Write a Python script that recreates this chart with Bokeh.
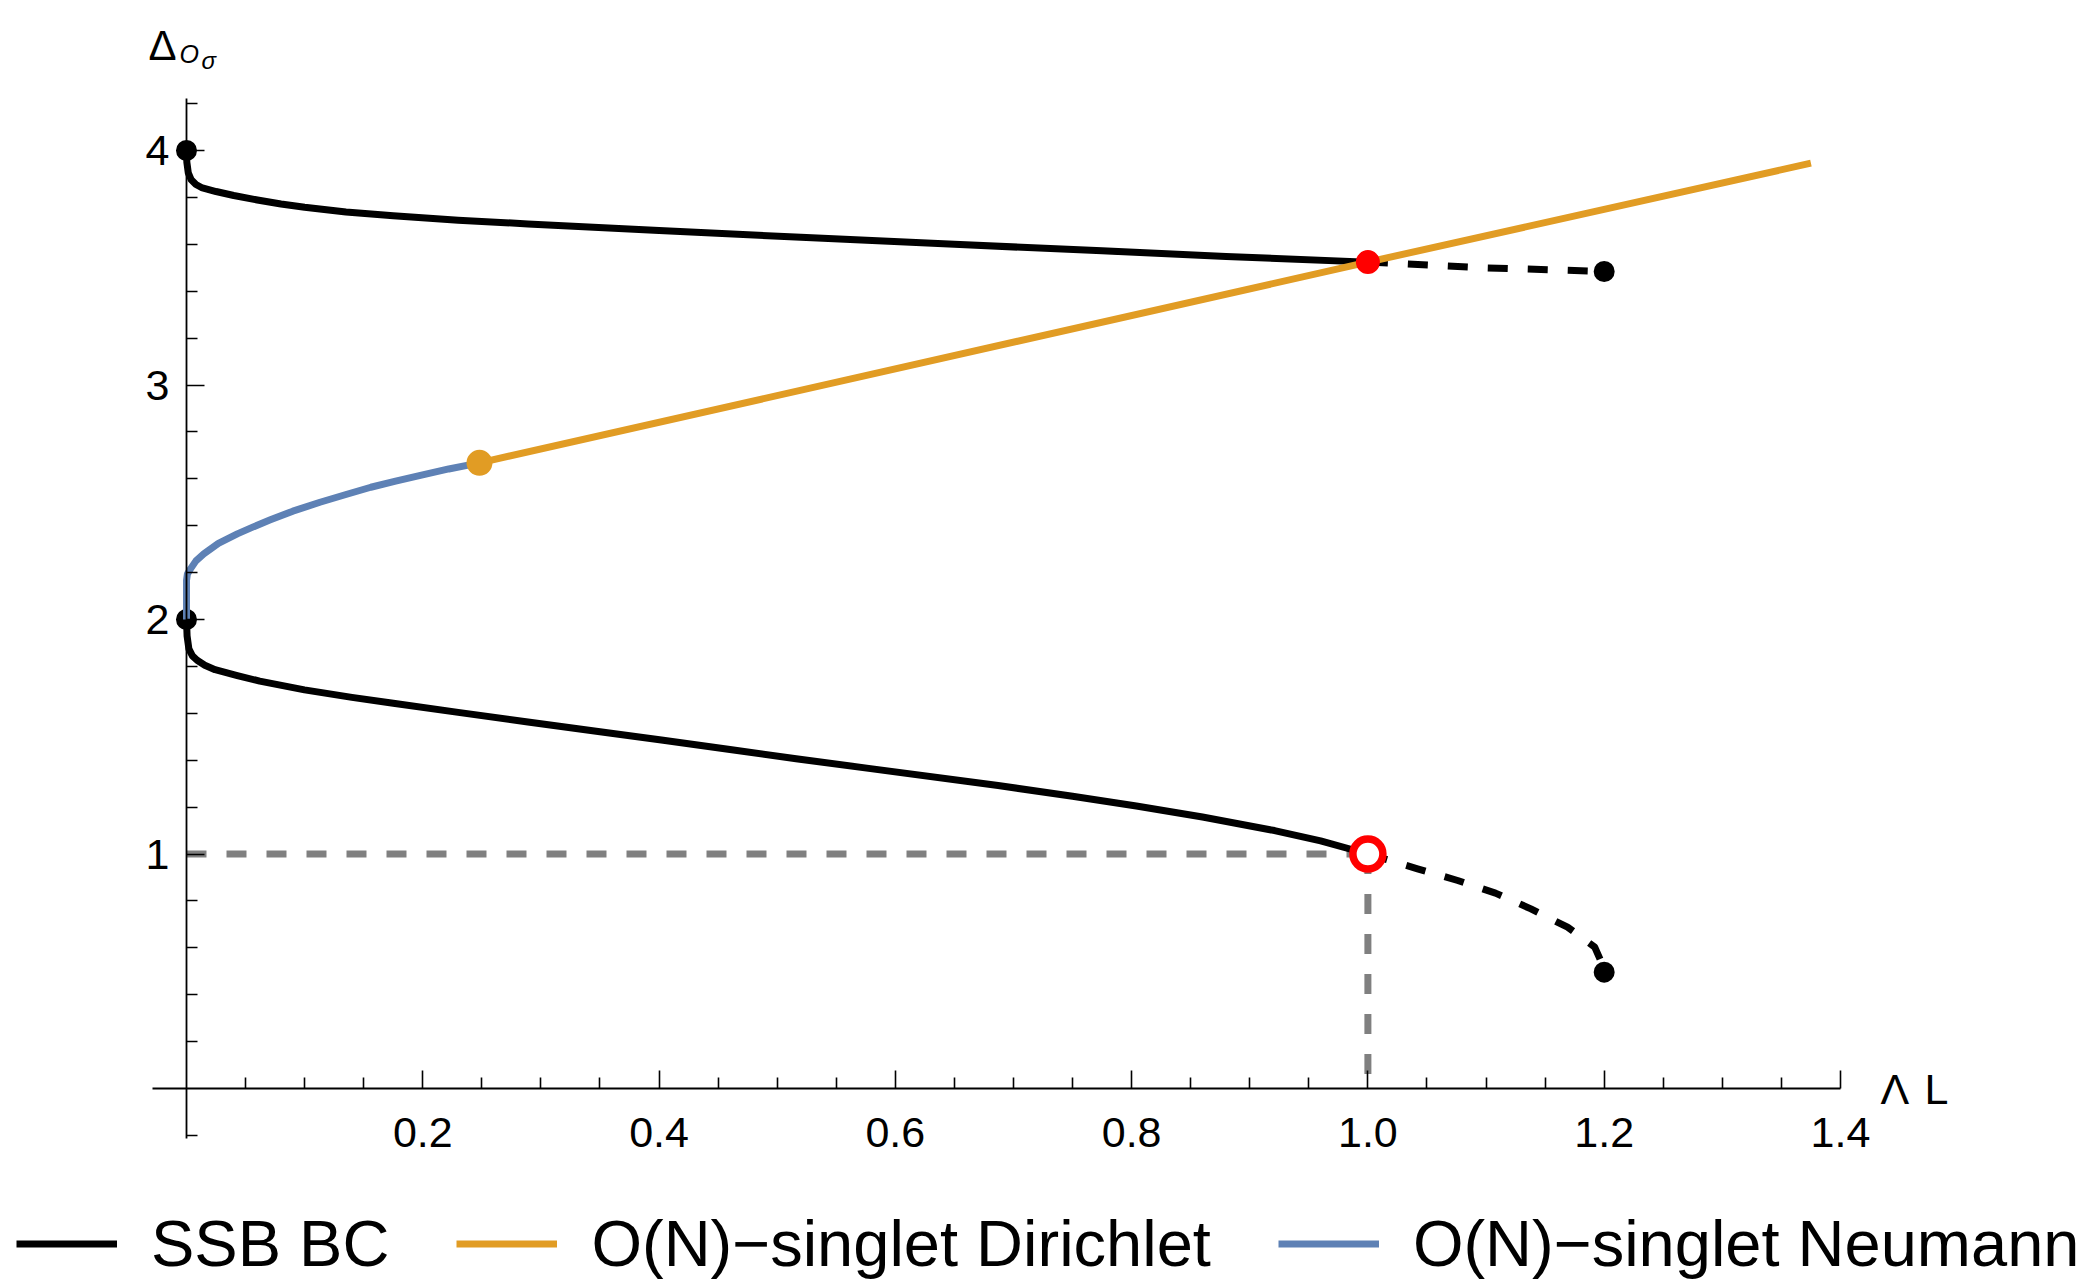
from bokeh.plotting import figure
from bokeh.models import LinearAxis, FixedTicker, Label, Legend, LegendItem
from bokeh.embed import file_html
from bokeh.resources import INLINE

# ---------------- data ----------------
# SSB BC, upper branch (solid part) : Lambda L  vs  Delta
ssb_up_x = [0.0, 0.0003, 0.0015, 0.004, 0.008, 0.0127, 0.025, 0.04, 0.06, 0.08, 0.1, 0.135, 0.175,
            0.23, 0.289, 0.4, 0.52, 0.65, 0.775, 0.88, 1.0]
ssb_up_y = [4.0, 3.95, 3.905, 3.875, 3.855, 3.842, 3.825, 3.808, 3.789, 3.772, 3.758, 3.738, 3.722,
            3.703, 3.687, 3.659, 3.630, 3.600, 3.572, 3.548, 3.524]
# SSB BC, upper branch (dashed continuation)
ssb_up_dash_x = [1.0, 1.098, 1.2]
ssb_up_dash_y = [3.524, 3.50, 3.484]
# SSB BC, lower branch (solid part)
ssb_lo_x = [0.0, 0.0005, 0.002, 0.005, 0.009, 0.0155, 0.0242, 0.043, 0.062, 0.0999, 0.14, 0.175, 0.23,
            0.289, 0.35, 0.402, 0.46, 0.516, 0.579, 0.687, 0.75, 0.804, 0.86, 0.921, 0.96, 1.0]
ssb_lo_y = [2.0, 1.93, 1.875, 1.845, 1.826, 1.805, 1.786, 1.761, 1.737, 1.700, 1.668, 1.643, 1.604,
            1.563, 1.521, 1.486, 1.446, 1.406, 1.364, 1.292, 1.246, 1.205, 1.158, 1.100, 1.056, 1.0]
# SSB BC, lower branch (dashed continuation)
ssb_lo_dash_x = [1.0, 1.042, 1.076, 1.108, 1.138, 1.169, 1.192, 1.197, 1.2]
ssb_lo_dash_y = [1.0, 0.937, 0.887, 0.833, 0.766, 0.688, 0.603, 0.546, 0.496]
# O(N)-singlet Neumann
neu_x = [0.0, 0.0, 0.0008, 0.0034, 0.008, 0.0146, 0.027, 0.043, 0.057, 0.071, 0.09, 0.113,
         0.135, 0.156, 0.177, 0.198, 0.222, 0.248]
neu_y = [2.0, 2.166, 2.195, 2.216, 2.25, 2.28, 2.325, 2.365, 2.396, 2.425, 2.462, 2.50,
         2.533, 2.564, 2.590, 2.615, 2.642, 2.668]
# O(N)-singlet Dirichlet
dir_x = [0.248, 1.0, 1.375]
dir_y = [2.668, 3.524, 3.946]
# end points
ssb_end_x = [0.0, 0.0, 1.2, 1.2]
ssb_end_y = [4.0, 2.0, 3.484, 0.496]
dir_start_x = [0.248]
dir_start_y = [2.668]
cross_x = [1.0]
cross_y = [3.524]
open_x = [1.0]
open_y = [1.0]
# guide lines
guide_h_x = [0.0, 1.0]
guide_h_y = [1.0, 1.0]
guide_v_x = [1.0, 1.0]
guide_v_y = [1.0, 0.0]

# ticks
x_major = [0.2, 0.4, 0.6, 0.8, 1.0, 1.2, 1.4]
x_labels = ["0.2", "0.4", "0.6", "0.8", "1.0", "1.2", "1.4"]
x_minor = [0.05, 0.1, 0.15, 0.25, 0.3, 0.35, 0.45, 0.5, 0.55, 0.65, 0.7, 0.75,
           0.85, 0.9, 0.95, 1.05, 1.1, 1.15, 1.25, 1.3, 1.35]
y_major = [1, 2, 3, 4]
y_labels = ["1", "2", "3", "4"]
y_minor = [-0.2, 0.2, 0.4, 0.6, 0.8, 1.2, 1.4, 1.6, 1.8, 2.2, 2.4, 2.6, 2.8,
           3.2, 3.4, 3.6, 3.8, 4.2]

legend_labels = ["SSB BC", "O(N)\u2212singlet Dirichlet", "O(N)\u2212singlet Neumann"]

# ---------------- styling ----------------
FONT = "Liberation Sans"
BLACK = "#000000"
ORANGE = "#E19C24"
BLUE = "#5E81B5"
RED = "#FF0000"
GRAY = "#808080"
LW = 7

p = figure(width=2080, height=1280,
           x_range=(-0.15744, 1.60318), y_range=(-0.81876, 4.63966),
           output_backend="svg", toolbar_location=None, tools="",
           x_axis_location=None, y_axis_location=None,
           min_border=0, title=None)
p.outline_line_color = None
p.background_fill_color = "white"
p.border_fill_color = "white"
p.xgrid.visible = False
p.ygrid.visible = False

# axes through the origin
xaxis = LinearAxis(fixed_location=0, bounds=(-0.029, 1.4),
                   ticker=FixedTicker(ticks=x_major, minor_ticks=x_minor),
                   major_label_overrides=dict(zip(x_major, x_labels)))
yaxis = LinearAxis(fixed_location=0, bounds=(-0.213, 4.22),
                   ticker=FixedTicker(ticks=y_major, minor_ticks=y_minor),
                   major_label_overrides=dict(zip(y_major, y_labels)))
for ax in (xaxis, yaxis):
    ax.axis_line_color = BLACK
    ax.axis_line_width = 1.8
    ax.major_tick_line_color = BLACK
    ax.major_tick_line_width = 1.6
    ax.minor_tick_line_color = BLACK
    ax.minor_tick_line_width = 1.6
    ax.major_tick_in = 18
    ax.major_tick_out = 0
    ax.minor_tick_in = 11
    ax.minor_tick_out = 0
    ax.major_label_text_font = FONT
    ax.major_label_text_font_size = "43px"
    ax.major_label_text_color = BLACK
xaxis.major_label_standoff = 29
yaxis.major_label_standoff = 17
p.add_layout(xaxis, "below")
p.add_layout(yaxis, "left")

# guide lines
p.line(guide_h_x, guide_h_y, line_color=GRAY, line_width=LW, line_dash="20 20", line_cap="butt")
p.line(guide_v_x, guide_v_y, line_color=GRAY, line_width=LW, line_dash="20 20", line_cap="butt")

# SSB curves
r_ssb = p.line(ssb_up_x, ssb_up_y, line_color=BLACK, line_width=LW, line_join="round")
p.line(ssb_lo_x, ssb_lo_y, line_color=BLACK, line_width=LW, line_join="round")
p.line(ssb_up_dash_x, ssb_up_dash_y, line_color=BLACK, line_width=LW, line_dash="20 20", line_cap="butt")
p.line(ssb_lo_dash_x, ssb_lo_dash_y, line_color=BLACK, line_width=LW, line_dash="20 20",
       line_cap="butt", line_join="round")
p.scatter(ssb_end_x, ssb_end_y, size=21, fill_color=BLACK, line_color=None)

# singlet curves
r_neu = p.line(neu_x, neu_y, line_color=BLUE, line_width=LW, line_join="round")
r_dir = p.line(dir_x, dir_y, line_color=ORANGE, line_width=LW)
p.scatter(dir_start_x, dir_start_y, size=26, fill_color=ORANGE, line_color=None)

# special points
p.scatter(cross_x, cross_y, size=24, fill_color=RED, line_color=None)
p.scatter(open_x, open_y, size=30, fill_color="white", line_color=RED, line_width=7.5)

# axis labels
p.add_layout(Label(x=1.4, y=0, x_offset=40, text="\u039b", text_font=FONT,
                   text_font_size="43px", text_baseline="middle", text_color=BLACK))
p.add_layout(Label(x=1.4, y=0, x_offset=84, text="L", text_font=FONT,
                   text_font_size="43px", text_baseline="middle", text_color=BLACK))
p.add_layout(Label(x=0, y=4, x_offset=-38, y_offset=105, text="\u0394", text_font=FONT,
                   text_font_size="42px", text_baseline="alphabetic", text_color=BLACK))
p.add_layout(Label(x=0, y=4, x_offset=-7, y_offset=97, text="O", text_font=FONT,
                   text_font_style="italic", text_font_size="25px",
                   text_baseline="alphabetic", text_color=BLACK))
p.add_layout(Label(x=0, y=4, x_offset=15, y_offset=90, text="\u03c3", text_font=FONT,
                   text_font_style="italic", text_font_size="24px",
                   text_baseline="alphabetic", text_color=BLACK))

# legend
legend = Legend(items=[LegendItem(label=legend_labels[0], renderers=[r_ssb]),
                       LegendItem(label=legend_labels[1], renderers=[r_dir]),
                       LegendItem(label=legend_labels[2], renderers=[r_neu])],
                orientation="horizontal", location=(16, -1),
                label_text_font=FONT, label_text_font_size="65px",
                label_text_color=BLACK,
                glyph_width=101, glyph_height=65, label_height=72,
                label_standoff=34, spacing=67, padding=0, margin=0,
                border_line_color=None, background_fill_alpha=0)
p.add_layout(legend)

open("out.html", "w").write(file_html(p, INLINE))
